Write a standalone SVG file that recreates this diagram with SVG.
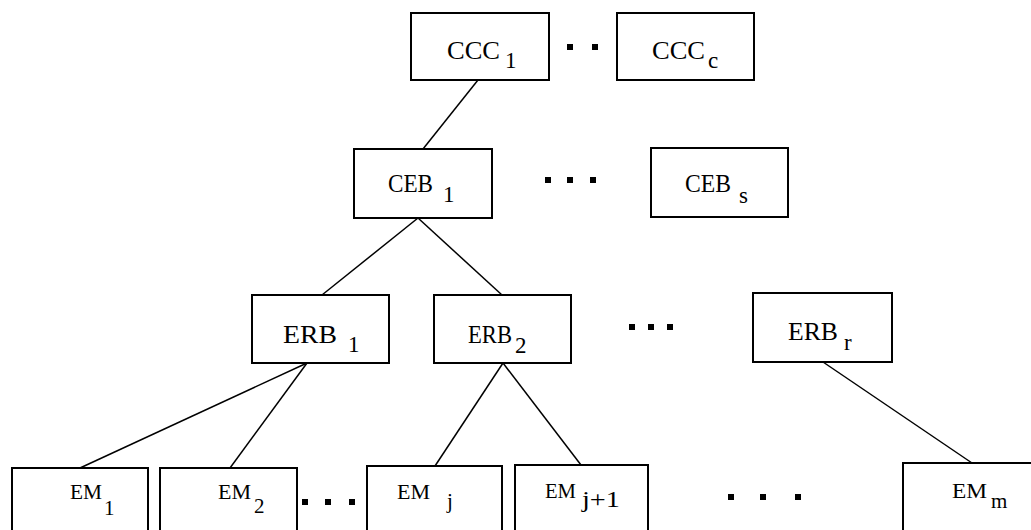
<svg xmlns="http://www.w3.org/2000/svg" width="1031" height="530" viewBox="0 0 1031 530">
<style>
.box{fill:#fff;stroke:#000;stroke-width:2}
.ln{stroke:#000;stroke-width:1.5;fill:none}
.t{font-family:"Liberation Serif","Times New Roman",serif;fill:#000}
.dot{fill:#000}
</style>
<rect width="1031" height="530" fill="#fff"/>
<g id="connectors">
<line class="ln" x1="478" y1="80" x2="423" y2="149"/>
<line class="ln" x1="418" y1="218" x2="322" y2="295"/>
<line class="ln" x1="418" y1="218" x2="502" y2="295"/>
<line class="ln" x1="307" y1="363" x2="80" y2="468"/>
<line class="ln" x1="307" y1="363" x2="230" y2="468"/>
<line class="ln" x1="503" y1="363" x2="435" y2="466"/>
<line class="ln" x1="503" y1="363" x2="581" y2="465"/>
<line class="ln" x1="823" y1="362" x2="972" y2="463"/>
</g>
<g id="dots">
<rect class="dot" x="567" y="44" width="6" height="6"/>
<rect class="dot" x="592" y="44" width="6" height="6"/>
<rect class="dot" x="545" y="177" width="6" height="6"/>
<rect class="dot" x="567" y="177" width="6" height="6"/>
<rect class="dot" x="590" y="177" width="6" height="6"/>
<rect class="dot" x="629" y="324" width="6" height="6"/>
<rect class="dot" x="648" y="324" width="6" height="6"/>
<rect class="dot" x="667" y="324" width="6" height="6"/>
<rect class="dot" x="302" y="499" width="6" height="6"/>
<rect class="dot" x="325" y="499" width="6" height="6"/>
<rect class="dot" x="349" y="499" width="6" height="6"/>
<rect class="dot" x="728" y="494" width="6" height="6"/>
<rect class="dot" x="760" y="494" width="6" height="6"/>
<rect class="dot" x="795" y="494" width="6" height="6"/>
</g>
<g id="CCC1">
<rect class="box" x="411" y="13" width="138" height="67"/>
<text class="t" x="447" y="59" font-size="25" textLength="53" lengthAdjust="spacingAndGlyphs">CCC</text>
<text class="t" x="505" y="68" font-size="23">1</text>
</g>
<g id="CCCc">
<rect class="box" x="617" y="13" width="137" height="67"/>
<text class="t" x="652" y="59" font-size="25" textLength="53" lengthAdjust="spacingAndGlyphs">CCC</text>
<text class="t" x="708" y="68" font-size="23">c</text>
</g>
<g id="CEB1">
<rect class="box" x="354" y="149" width="138" height="69"/>
<text class="t" x="388" y="192" font-size="25" textLength="45" lengthAdjust="spacingAndGlyphs">CEB</text>
<text class="t" x="443" y="202" font-size="23">1</text>
</g>
<g id="CEBs">
<rect class="box" x="651" y="148" width="137" height="69"/>
<text class="t" x="685" y="192" font-size="25" textLength="46" lengthAdjust="spacingAndGlyphs">CEB</text>
<text class="t" x="739" y="203" font-size="23">s</text>
</g>
<g id="ERB1">
<rect class="box" x="252" y="295" width="137" height="68"/>
<text class="t" x="283" y="343" font-size="25" textLength="54" lengthAdjust="spacingAndGlyphs">ERB</text>
<text class="t" x="348" y="352" font-size="23">1</text>
</g>
<g id="ERB2">
<rect class="box" x="434" y="295" width="137" height="68"/>
<text class="t" x="468" y="343" font-size="25" textLength="44" lengthAdjust="spacingAndGlyphs">ERB</text>
<text class="t" x="515" y="353" font-size="23">2</text>
</g>
<g id="ERBr">
<rect class="box" x="753" y="293" width="139" height="69"/>
<text class="t" x="788" y="340" font-size="25" textLength="50" lengthAdjust="spacingAndGlyphs">ERB</text>
<text class="t" x="844" y="350" font-size="23">r</text>
</g>
<g id="EM1">
<rect class="box" x="12" y="468" width="136" height="70"/>
<text class="t" x="70" y="499" font-size="21" textLength="32" lengthAdjust="spacingAndGlyphs">EM</text>
<text class="t" x="104" y="515" font-size="21">1</text>
</g>
<g id="EM2">
<rect class="box" x="160" y="468" width="137" height="70"/>
<text class="t" x="218" y="499" font-size="21" textLength="33" lengthAdjust="spacingAndGlyphs">EM</text>
<text class="t" x="254" y="513" font-size="21">2</text>
</g>
<g id="EMj">
<rect class="box" x="367" y="466" width="135" height="72"/>
<text class="t" x="397" y="499" font-size="21" textLength="33" lengthAdjust="spacingAndGlyphs">EM</text>
<text class="t" x="447" y="508" font-size="21">j</text>
</g>
<g id="EMj1">
<rect class="box" x="515" y="465" width="133" height="73"/>
<text class="t" x="545" y="498" font-size="21" textLength="31" lengthAdjust="spacingAndGlyphs">EM</text>
<text class="t" x="582" y="507" font-size="24" textLength="38" lengthAdjust="spacingAndGlyphs">j+1</text>
</g>
<g id="EMm">
<rect class="box" x="903" y="463" width="140" height="75"/>
<text class="t" x="952" y="498" font-size="21" textLength="35" lengthAdjust="spacingAndGlyphs">EM</text>
<text class="t" x="991" y="508" font-size="21">m</text>
</g>
</svg>
